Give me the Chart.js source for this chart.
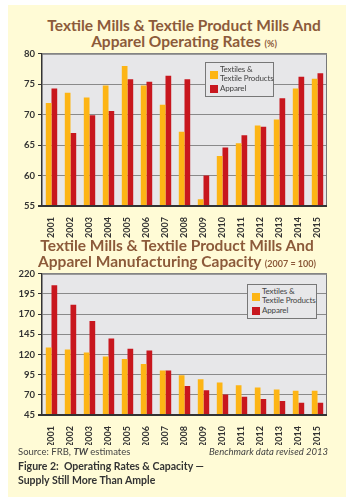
<!DOCTYPE html>
<html>
<head>
<meta charset="utf-8">
<script src="https://cdn.jsdelivr.net/npm/chart.js@4"></script>
<style>
  html, body { margin: 0; padding: 0; background: #fff; }
  #page { position: relative; width: 350px; height: 501px; overflow: hidden; }
  #panel { position: absolute; left: 8px; top: 5px; width: 338px; height: 492px; background: #fffbd6; }
  .title { position: absolute; font-family: Lato, sans-serif; font-weight: bold; color: #8c5a3a;
           font-size: 15.5px; line-height: 16px; text-align: center; white-space: nowrap; }
  .title small { font-size: 9px; }
  .box { position: absolute; }
  .legend { position: absolute; background: #e7e7e9; border: 1px solid #777; font-family: Lato, sans-serif;
            font-size: 8px; color: #444; line-height: 9px; white-space: nowrap; letter-spacing: -0.15px; }
  .legend .txt { position: absolute; left: 14px; }
  .legend .sw { position: absolute; left: 4px; width: 8px; height: 8px; }
  .note { position: absolute; font-family: Lato, sans-serif; font-size: 9.5px; color: #444; white-space: nowrap; }
  .caption { position: absolute; left: 18px; top: 459px; font-family: Lato, sans-serif; font-weight: bold;
             font-size: 10.5px; line-height: 14px; color: #333; }
</style>
</head>
<body>
<div id="page">
  <div id="panel"></div>

  <div class="title" style="left:0; width:368px; top:17px;">Textile Mills &amp; Textile Product Mills And<br>Apparel Operating Rates <small>(%)</small></div>
  <div class="box" style="left:0; top:45px; width:350px; height:195px;"><canvas id="opChart"></canvas></div>
  <div class="legend" style="left:205px; top:62px; width:67px; height:33px;">
    <span class="sw" style="background:#fdb515; top:8px;"></span>
    <span class="txt" style="top:2px;">Textiles &amp;<br>Textile Products</span>
    <span class="sw" style="background:#c8171e; top:22px;"></span>
    <span class="txt" style="top:21px;">Apparel</span>
  </div>

  <div class="title" style="left:0; width:354px; top:237px;">Textile Mills &amp; Textile Product Mills And<br>Apparel Manufacturing Capacity <small>(2007 = 100)</small></div>
  <div class="box" style="left:0; top:265px; width:350px; height:180px;"><canvas id="capChart"></canvas></div>
  <div class="legend" style="left:247px; top:284px; width:68px; height:33px;">
    <span class="sw" style="background:#fdb515; top:8px;"></span>
    <span class="txt" style="top:2px;">Textiles &amp;<br>Textile Products</span>
    <span class="sw" style="background:#c8171e; top:22px;"></span>
    <span class="txt" style="top:21px;">Apparel</span>
  </div>

  <div class="note" style="left:18px; top:446px;">Source: FRB, <b><i>TW</i></b> estimates</div>
  <div class="note" style="right:22px; top:446px; font-style:italic;">Benchmark data revised 2013</div>
  <div class="caption">Figure 2:&nbsp; Operating Rates &amp; Capacity —<br>Supply Still More Than Ample</div>
</div>

<script>
// --- Data ---
const years = ['2001', '2002', '2003', '2004', '2005', '2006', '2007', '2008',
               '2009', '2010', '2011', '2012', '2013', '2014', '2015'];

// operating rates (%)
const opTextiles = [71.9, 73.6, 72.8, 74.8, 78.0, 74.8, 71.6, 67.2, 56.1, 63.2, 65.3, 68.2, 69.2, 74.3, 75.9];
const opApparel  = [74.3, 67.0, 69.9, 70.6, 75.8, 75.4, 76.4, 75.8, 60.0, 64.6, 66.6, 68.0, 72.7, 76.2, 76.8];

// capacity (2007 = 100)
const capTextiles = [128.6, 126.1, 122.5, 117.5, 114.3, 108.1, 100, 94.2, 89.3, 85.2, 82.0, 79.0, 76.6, 75.0, 75.0];
const capApparel  = [205.7, 181.5, 161.4, 139.7, 127.0, 125.0, 100, 81.0, 75.7, 70.4, 67.5, 64.7, 62.2, 60.2, 60.2];

const opAxis  = { min: 55, max: 80, step: 5 };
const capAxis = { min: 45, max: 220, step: 25 };

const YELLOW = '#fdb515';
const RED = '#c8171e';

// --- Plot background + frame ---
const plotFrame = {
    id: 'plotFrame',
    beforeDraw(chart) {
        const a = chart.chartArea, c = chart.ctx;
        c.save();
        c.fillStyle = '#e7e7e9';
        c.fillRect(a.left, a.top, a.right - a.left, a.bottom - a.top);
        c.restore();
    },
    afterDraw(chart) {
        const a = chart.chartArea, c = chart.ctx;
        c.save();
        c.strokeStyle = '#777';
        c.lineWidth = 1;
        c.beginPath();
        c.moveTo(a.left, a.top + 0.5);
        c.lineTo(a.right - 0.5, a.top + 0.5);
        c.lineTo(a.right - 0.5, a.bottom);
        c.stroke();
        c.strokeStyle = '#333';
        c.lineWidth = 2;
        c.beginPath();
        c.moveTo(a.left - 4, a.bottom);
        c.lineTo(a.right, a.bottom);
        c.stroke();
        c.restore();
    }
};

function makeChart(id, textiles, apparel, axis, xHeight, padTop) {
    return new Chart(document.getElementById(id), {
        type: 'bar',
        data: {
            labels: years,
            datasets: [
                { label: 'Textiles & Textile Products', data: textiles, backgroundColor: YELLOW },
                { label: 'Apparel', data: apparel, backgroundColor: RED }
            ]
        },
        options: {
            responsive: true,
            maintainAspectRatio: false,
            animation: false,
            layout: { padding: { left: 8, right: 23, top: padTop, bottom: 0 } },
            datasets: { bar: { categoryPercentage: 0.6, barPercentage: 1.0 } },
            plugins: { legend: { display: false }, tooltip: { enabled: false } },
            scales: {
                x: {
                    grid: { display: false },
                    border: { display: false },
                    ticks: {
                        color: '#333', maxRotation: 90, minRotation: 90, autoSkip: false, padding: 3,
                        font: { family: 'Lato', weight: 'bold', size: 9 }
                    },
                    afterFit(scale) { scale.height = xHeight; }
                },
                y: {
                    min: axis.min, max: axis.max,
                    grid: { color: '#8a8a8a', lineWidth: 1, tickLength: 4, drawTicks: true, tickColor: '#333' },
                    border: { color: '#333', width: 1.5 },
                    ticks: {
                        stepSize: axis.step, color: '#333', padding: 3,
                        font: { family: 'Lato', weight: 'bold', size: 9.5 }
                    },
                    afterFit(scale) { scale.width = 34; }
                }
            }
        },
        plugins: [plotFrame]
    });
}

makeChart('opChart', opTextiles, opApparel, opAxis, 34, 8);
makeChart('capChart', capTextiles, capApparel, capAxis, 30, 8);
</script>
</body>
</html>
